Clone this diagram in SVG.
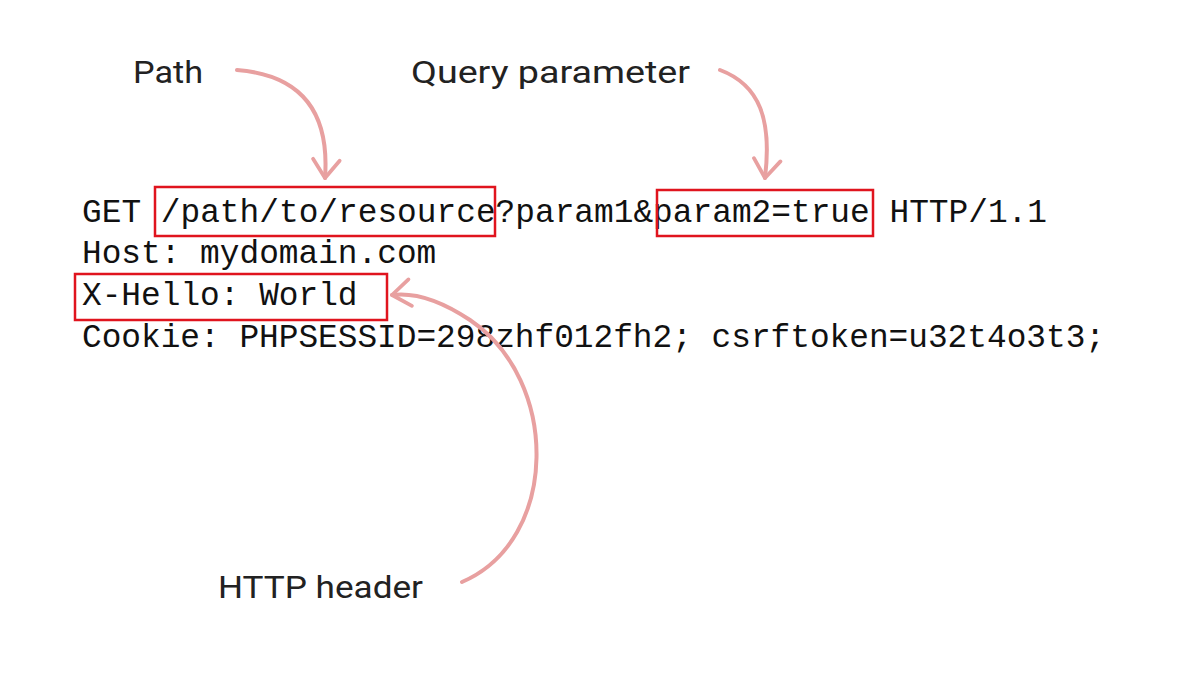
<svg xmlns="http://www.w3.org/2000/svg" width="1200" height="673" viewBox="0 0 1200 673">
<style>
.code{font-family:"Liberation Mono","DejaVu Sans Mono",monospace;font-size:32.8px;fill:#111}
.lbl{font-family:Roboto,"Liberation Sans",sans-serif;font-size:32px;fill:#222}
.box{fill:none;stroke:#e0141e;stroke-width:2.5}
.arr{fill:none;stroke:#e8a0a0;stroke-width:4;stroke-linecap:round}
</style>
<defs>
<marker id="ah" viewBox="0 0 12 12" refX="10" refY="6" markerWidth="10" markerHeight="10" orient="auto" markerUnits="userSpaceOnUse" style="overflow:visible">
<path d="M-12,-10 L10,6 L-12,22" fill="none" stroke="#e8a0a0" stroke-width="4.5" stroke-linecap="round" stroke-linejoin="round"/>
</marker>
</defs>
<rect width="1200" height="673" fill="#fff"/>
<g id="code">
<text class="code" x="82" y="222" textLength="965" lengthAdjust="spacingAndGlyphs">GET /path/to/resource?param1&amp;param2=true HTTP/1.1</text>
<text class="code" x="82" y="263">Host: mydomain.com</text>
<text class="code" x="82" y="305">X-Hello: World</text>
<text class="code" x="82" y="347" textLength="1023" lengthAdjust="spacingAndGlyphs">Cookie: PHPSESSID=298zhf012fh2; csrftoken=u32t4o3t3;</text>
</g>
<g id="path-label"><text class="lbl" x="133" y="83" textLength="70" lengthAdjust="spacingAndGlyphs">Path</text><rect class="box" x="155" y="187" width="340" height="49"/></g>
<g id="query-label"><text class="lbl" x="411" y="83" textLength="279" lengthAdjust="spacingAndGlyphs">Query parameter</text><rect class="box" x="657" y="190" width="216" height="46"/></g>
<g id="header-label"><text class="lbl" x="218" y="598" textLength="205" lengthAdjust="spacingAndGlyphs">HTTP header</text><rect class="box" x="75" y="274" width="312" height="46"/></g>
<g id="connectors">
<path class="arr" d="M237,70 C300,75 330,110 325,178" marker-end="url(#ah)"/>
<path class="arr" d="M720,70 C760,85 772,120 765,178" marker-end="url(#ah)"/>
<path class="arr" d="M462,582 C560,540 560,380 470,320 C440,300 415,292 392,295" marker-end="url(#ah)"/>
</g>
</svg>
